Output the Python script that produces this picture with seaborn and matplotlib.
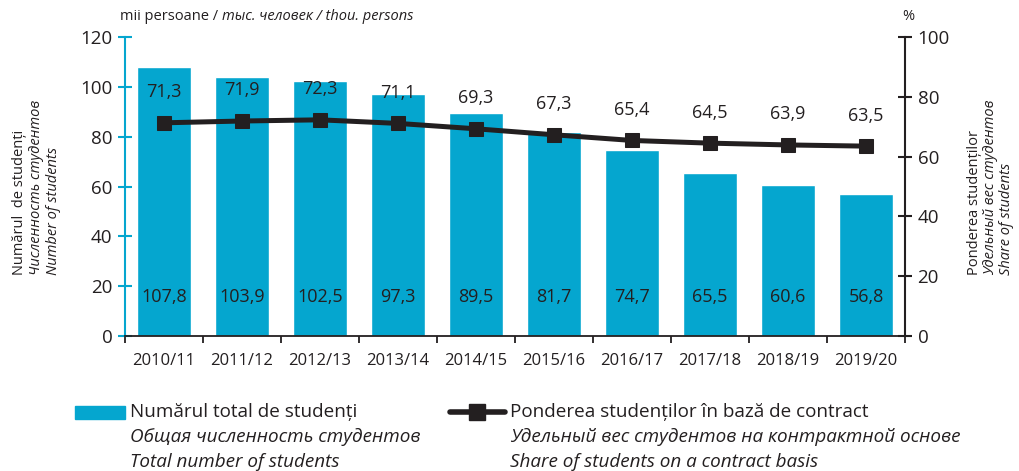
import matplotlib
matplotlib.use("Agg")
import matplotlib.pyplot as plt
import seaborn as sns
from matplotlib.patches import Rectangle
from matplotlib.lines import Line2D

# date
ani = ["2010/11", "2011/12", "2012/13", "2013/14", "2014/15",
       "2015/16", "2016/17", "2017/18", "2018/19", "2019/20"]
studenti = [107.8, 103.9, 102.5, 97.3, 89.5, 81.7, 74.7, 65.5, 60.6, 56.8]
pondere = [71.3, 71.9, 72.3, 71.1, 69.3, 67.3, 65.4, 64.5, 63.9, 63.5]

albastru = "#05a6cf"
negru = "#231f20"

sns.set_style("white")
plt.rcParams["font.family"] = ["Open Sans", "DejaVu Sans"]

fig = plt.figure(figsize=(10.2, 4.71), dpi=100)
ax = fig.add_axes([125/1020, 1-336/471, 780/1020, 299/471])

sns.barplot(x=ani, y=studenti, color=albastru, width=0.68, saturation=1, ax=ax)
ax.set_ylim(0, 120)
ax.set_xlim(-0.5, 9.5)
ax.set_yticks(range(0, 121, 20))
ax.set_xticks([i - 0.5 for i in range(11)], minor=True)
for i, v in enumerate(studenti):
    ax.text(i, 15.5, f"{v:.1f}".replace(".", ","), ha="center", va="center",
            fontsize=13, color=negru)

ax2 = ax.twinx()
sns.lineplot(x=ani, y=pondere, sort=False, color=negru, lw=3.6, marker="s",
             markersize=10, markeredgecolor=negru, ax=ax2)
ax2.set_ylim(0, 100)
ax2.set_yticks(range(0, 101, 20))
for i, v in enumerate(pondere):
    ax2.annotate(f"{v:.1f}".replace(".", ","), (i, v), xytext=(0, 22),
                 textcoords="offset points", ha="center", va="center",
                 fontsize=13, color=negru)

for a in (ax, ax2):
    a.spines["top"].set_visible(False)
    a.set_xlabel("")
    a.set_ylabel("")
ax.spines["left"].set_color(albastru)
ax.spines["left"].set_linewidth(1.5)
ax.spines["right"].set_visible(False)
ax.spines["bottom"].set_color(negru)
ax.spines["bottom"].set_linewidth(1.3)
ax2.spines["left"].set_visible(False)
ax2.spines["bottom"].set_visible(False)
ax2.spines["right"].set_color(negru)
ax2.spines["right"].set_linewidth(1.5)

ax.tick_params(axis="y", direction="inout", length=10, width=1.5, color=albastru,
               labelsize=13.5, labelcolor=negru, pad=4, left=True)
ax.tick_params(axis="x", which="major", length=0, labelsize=12, labelcolor=negru, pad=12)
ax.tick_params(axis="x", which="minor", direction="out", length=5, width=1.3,
               color=negru, bottom=True)
ax2.tick_params(axis="y", direction="inout", length=10, width=1.5, color=negru,
                labelsize=13.5, labelcolor=negru, pad=4, right=True)

# unitati
t1 = fig.text(120/1020, 1-17/471, "mii persoane / ", fontsize=10.5, va="center", color=negru)
ax.annotate("тыс. человек / thou. persons", xy=(1, 0), xycoords=t1, va="bottom",
            fontsize=10.5, style="italic", color=negru)
fig.text(908/1020, 1-17/471, "%", fontsize=10.5, ha="center", va="center", color=negru)

# etichete axe
st = [("Numărul  de studenți", "normal"), ("Численность студентов", "italic"),
      ("Number of students", "italic")]
for k, (s, f) in enumerate(st):
    fig.text((20 + k*17)/1020, 1-275/471, s, rotation=90, rotation_mode="anchor",
             ha="left", va="center", fontsize=10.5, style=f, color=negru)
dr = [("Ponderea studenților", "normal"), ("Удельный вес студентов", "italic"),
      ("Share of students", "italic")]
for k, (s, f) in enumerate(dr):
    fig.text((975 + k*16)/1020, 1-275/471, s, rotation=90, rotation_mode="anchor",
             ha="left", va="center", fontsize=10.5, style=f, color=negru)

# legenda
fig.patches.append(Rectangle((75/1020, 1-419/471), 50/1020, 13/471,
                             transform=fig.transFigure, color=albastru))
fig.lines.append(Line2D([450/1020, 477/1020, 505/1020], [1-412/471]*3,
                        transform=fig.transFigure, color=negru, lw=4, marker="s",
                        markersize=12, markevery=[1], markeredgecolor=negru))
leg1 = ["Numărul total de studenți", "Общая численность студентов", "Total number of students"]
leg2 = ["Ponderea studenților în bază de contract",
        "Удельный вес студентов на контрактной основе",
        "Share of students on a contract basis"]
for k in range(3):
    f = "normal" if k == 0 else "italic"
    fig.text(130/1020, 1-(412 + k*25)/471, leg1[k], fontsize=13.6, style=f,
             va="center", color=negru)
    fig.text(510/1020, 1-(412 + k*25)/471, leg2[k], fontsize=13.6, style=f,
             va="center", color=negru)

fig.savefig("out.png", dpi=100)
